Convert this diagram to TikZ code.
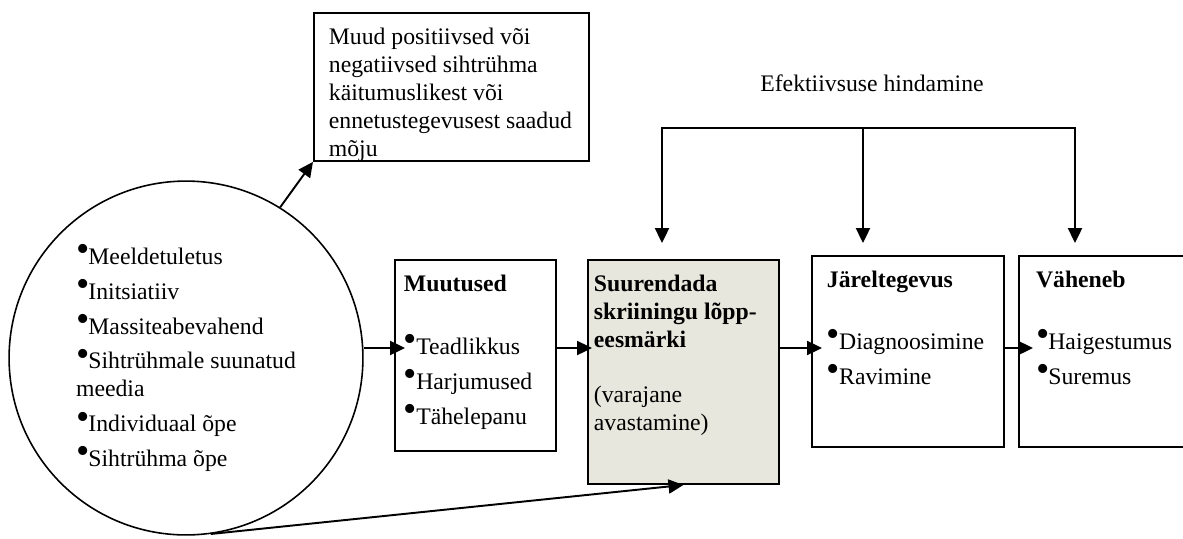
\documentclass[tikz,border=0pt]{standalone}
\usepackage{fontspec}
\setmainfont{Liberation Serif}
\usetikzlibrary{arrows.meta,calc}
\definecolor{boxgray}{RGB}{232,231,221}
\newcommand{\bul}{\raisebox{0.12em}{\scalebox{1.6}{•}}\hspace{-0.04em}}
\newcommand{\boxtxt}[4]{\begin{minipage}[t][#3][t]{#2}\raggedright\leftskip=#1 #4\end{minipage}}

\begin{document}
\begin{tikzpicture}[x=0.02cm,y=-0.02cm,line width=1.1pt,>={Triangle[length=8.5pt,width=8pt]},
    font=\fontsize{13.5}{15.9}\selectfont,
    box/.style={draw,anchor=north west,inner xsep=0pt,inner ysep=8.5pt}]
    \useasboundingbox (0,0) rectangle (1183,538);
    \node[circle,draw,line width=0.9pt,minimum size=201.4pt,inner sep=0pt,align=left] (circ) at (186,358)
        {\bul Meeldetuletus\\[4pt] \bul Initsiatiiv\\[4pt] \bul Massiteabevahend\\[4pt]
         \bul Sihtrühmale suunatud\\ meedia\\[4pt] \bul Individuaal õpe\\[4pt] \bul Sihtrühma õpe};
    \node[box] (muud) at (313,12) {\boxtxt{8.5pt}{156.5pt}{67.2pt}{Muud positiivsed või\\
        negatiivsed sihtrühma\\ käitumuslikest või\\ ennetustegevusest saadud\\ mõju}};
    \node[box] (muut) at (394,259) {\boxtxt{5.1pt}{91.6pt}{91.7pt}{\textbf{Muutused}\\[20pt]
        \bul Teadlikkus\\[4pt] \bul Harjumused\\[4pt] \bul Tähelepanu}};
    \node[box,fill=boxgray] (suur) at (587,259) {\boxtxt{3.4pt}{108.7pt}{110.5pt}{\textbf{Suurendada}\\
        \textbf{skriiningu lõpp-}\\ \textbf{eesmärki}\\[15.4pt] (varajane\\ avastamine)}};
    \node[box] (jarel) at (811,255) {\boxtxt{8.5pt}{109.2pt}{91.7pt}{\textbf{Järeltegevus}\\[19.3pt]
        \bul Diagnoosimine\\[4pt] \bul Ravimine}};
    \node[box] (vah) at (1018,255) {\boxtxt{9.7pt}{109.2pt}{91.7pt}{\textbf{Väheneb}\\[19.3pt]
        \bul Haigestumus\\[4pt] \bul Suremus}};
    \node (hind) at (872,83) {Efektiivsuse hindamine};
    % hindamise sulg
    \coordinate (b1) at (662,128);
    \coordinate (b2) at (863,128);
    \coordinate (b3) at (1075,128);
    \draw[<->] ($(suur.north -| b1)+(0,-16)$) -- (b1) -- (b3) -- ($(vah.north -| b3)+(0,-12)$);
    \draw[->] (b2) -- ($(jarel.north -| b2)+(0,-12)$);
    % noolte rida
    \coordinate (row) at (0,348);
    \draw[->] (circ.east |- row) -- ($(muut.west |- row)+(11,0)$);
    \draw[->] (muut.east |- row) -- ($(suur.west |- row)+(5,0)$);
    \draw[->] (suur.east |- row) -- ($(jarel.west |- row)+(11,0)$);
    \draw[->] (jarel.east |- row) -- ($(vah.west |- row)+(15,0)$);
    \draw[->] (circ.58) -- (muud.south west);
    \draw[->] (circ.-82) -- (suur.south);
\end{tikzpicture}
\end{document}
